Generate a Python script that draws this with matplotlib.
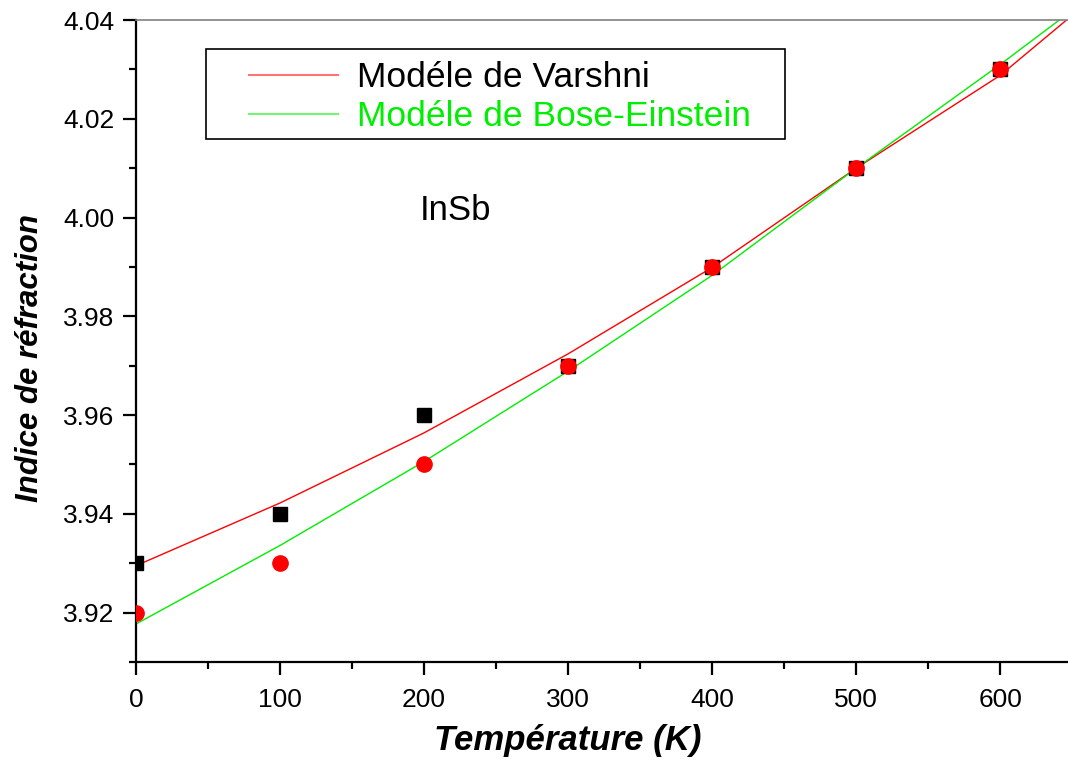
import matplotlib
matplotlib.use("Agg")
from matplotlib import pyplot as plt
from matplotlib.patches import Rectangle
from matplotlib.ticker import MultipleLocator, FormatStrFormatter

plt.rcParams['font.family'] = ['Liberation Sans', 'DejaVu Sans']

# measured refractive index of InSb
temp_exp = [0, 100, 200, 300, 400, 500, 600]
n_sq = [3.93, 3.94, 3.96, 3.97, 3.99, 4.01, 4.03]
n_circ = [3.92, 3.93, 3.95, 3.97, 3.99, 4.01, 4.03]

# fitted model curves
temp_varshni = [0, 100, 200, 300, 400, 500, 600, 646]
n_varshni = [3.9295, 3.9422, 3.9564, 3.9724, 3.9899, 4.010, 4.0288, 4.040]
temp_bose = [0, 100, 200, 300, 400, 500, 600, 641]
n_bose = [3.9177, 3.9336, 3.9506, 3.9689, 3.9883, 4.010, 4.031, 4.040]

W, H = 1068, 762
fig = plt.figure(figsize=(W / 100, H / 100), dpi=100)
ax = fig.add_axes([136 / W, 1 - 662 / H, 1 - 136 / W, (662 - 20) / H])

green = '#00ee00'
ax.plot(temp_exp, n_sq, 's', color='black', ms=10, zorder=3)
ax.plot(temp_exp, n_circ, 'o', color='red', ms=11, zorder=4)
l1, = ax.plot(temp_varshni, n_varshni, '-', color='red', lw=1.0, label='Modéle de Varshni', zorder=2)
l2, = ax.plot(temp_bose, n_bose, '-', color=green, lw=1.0, label='Modéle de Bose-Einstein', zorder=2)

ax.set_xlim(0, 647)
ax.set_ylim(3.910, 4.040)
ax.xaxis.set_major_locator(MultipleLocator(100))
ax.xaxis.set_minor_locator(MultipleLocator(50))
ax.yaxis.set_major_locator(MultipleLocator(0.02))
ax.yaxis.set_minor_locator(MultipleLocator(0.01))
ax.yaxis.set_major_formatter(FormatStrFormatter('%.2f'))
ax.tick_params(which='major', direction='out', length=9.5, width=1.6, labelsize=19, pad=6)
ax.tick_params(axis='x', which='major', pad=9)
ax.tick_params(which='minor', direction='out', length=5, width=1.6)

ax.spines['right'].set_visible(False)
ax.spines['top'].set_color('#808080')
ax.spines['top'].set_linewidth(1.2)
ax.spines['left'].set_linewidth(1.6)
ax.spines['bottom'].set_linewidth(1.6)

ax.set_xlabel('Température (K)', fontsize=25, fontweight='bold', style='italic')
ax.set_ylabel('Indice de réfraction', fontsize=22.5, fontweight='bold', style='italic')
ax.xaxis.set_label_coords(0.4635, -0.097)
ax.yaxis.set_label_coords(-0.0976, 0.4735)

ax.text(222, 4.0015, 'InSb', fontsize=25, ha='center', va='center')

# legend frame drawn separately so the padding can be wider on the left
fig.patches.append(Rectangle((206 / W, 1 - 139 / H), (785 - 206) / W, 90 / H,
                             transform=fig.transFigure, fill=False,
                             edgecolor='black', lw=1.2, zorder=5))
leg = ax.legend(handles=[l1, l2], loc='upper left',
                bbox_to_anchor=(249 / W, 1 - 61 / H), bbox_transform=fig.transFigure,
                fontsize=25.5, frameon=False, handlelength=2.5, handletextpad=0.55,
                labelspacing=0.17, borderpad=0, borderaxespad=0)
leg.get_texts()[1].set_color(green)
for h in leg.legend_handles:
    h.set_linewidth(1.5)
    h.set_alpha(0.55)

fig.savefig('out.png', dpi=100)
